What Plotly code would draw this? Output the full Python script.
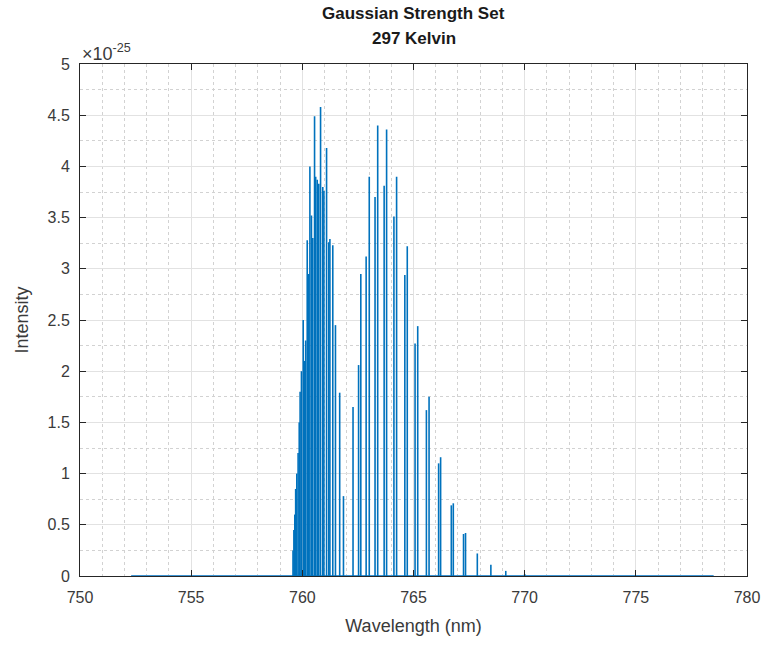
import plotly.graph_objects as go

# ---- data (intensity in units of 1e-25) ----
r_branch_nm = [759.58, 759.62, 759.66, 759.70, 759.75, 759.81, 759.86, 759.90, 759.96,
               760.04, 760.10, 760.15, 760.22, 760.29, 760.34, 760.41, 760.47, 760.55,
               760.60, 760.67, 760.74, 760.82, 760.92, 760.97, 761.09, 761.19, 761.24,
               761.37, 761.49, 761.68, 761.85]
r_branch_val = [0.25, 0.45, 0.60, 0.85, 1.00, 1.20, 1.50, 1.80, 2.00,
                2.50, 2.10, 2.30, 3.28, 2.95, 4.00, 3.52, 3.30, 4.49,
                3.90, 3.87, 3.83, 4.58, 3.80, 3.76, 4.18, 3.26, 3.29,
                3.23, 2.45, 1.79, 0.78]

p_branch_nm = [762.28, 762.53, 762.63, 762.87, 763.01, 763.27, 763.39, 763.68, 763.79,
               764.12, 764.24, 764.61, 764.72, 765.07, 765.19, 765.58, 765.70,
               766.13, 766.22, 766.70, 766.79, 767.25, 767.34, 767.87, 768.48,
               769.15, 770.00]
p_branch_val = [1.65, 2.06, 2.95, 3.12, 3.90, 3.70, 4.40, 3.81, 4.36,
                3.51, 3.90, 2.94, 3.22, 2.27, 2.44, 1.62, 1.75,
                1.10, 1.16, 0.69, 0.71, 0.41, 0.42, 0.22, 0.11,
                0.05, 0.02]

spectrum_range_nm = [752.3, 778.5]
baseline_val = [0.0, 0.0]

x_ticks = [750, 755, 760, 765, 770, 775, 780]
y_ticks = [0, 0.5, 1, 1.5, 2, 2.5, 3, 3.5, 4, 4.5, 5]
y_tick_text = ["0", "0.5", "1", "1.5", "2", "2.5", "3", "3.5", "4", "4.5", "5"]

# ---- build stick spectrum ----
line_nm = r_branch_nm + p_branch_nm
line_val = r_branch_val + p_branch_val
xs, ys = [], []
for c, h in zip(line_nm, line_val):
    xs += [c, c, None]
    ys += [0, h, None]

blue = "#0072BD"
fig = go.Figure()
fig.add_trace(go.Scatter(x=spectrum_range_nm, y=baseline_val, mode="lines",
                         line=dict(color="#3d93d1", width=2), hoverinfo="skip",
                         showlegend=False))
fig.add_trace(go.Scatter(x=xs, y=ys, mode="lines",
                         line=dict(color=blue, width=1.6), showlegend=False))

axis_col = "#262626"
grid_col = "#e2e2e2"
minor_col = "#d2d2d2"
text_col = "#3a3a3a"
font_family = "Liberation Sans, Arial, sans-serif"

fig.update_layout(
    width=772, height=649,
    margin=dict(l=80, r=19, t=64, b=73),
    paper_bgcolor="white", plot_bgcolor="white",
    font=dict(family=font_family, color=axis_col, size=16),
    xaxis=dict(
        range=[750, 780], tickvals=x_ticks, ticks="inside", ticklen=6,
        tickcolor=axis_col, showline=True, linecolor=axis_col, linewidth=1,
        mirror="ticks", showgrid=True, gridcolor=grid_col, gridwidth=1,
        zeroline=False, ticklabelstandoff=7,
        tickfont=dict(size=16, color=text_col),
        title=dict(text="Wavelength (nm)", font=dict(size=18, color=text_col), standoff=14),
        minor=dict(dtick=1, showgrid=True, griddash="dot", gridcolor=minor_col, ticks=""),
    ),
    yaxis=dict(
        range=[0, 5], tickvals=y_ticks, ticktext=y_tick_text, ticks="inside", ticklen=6,
        tickcolor=axis_col, showline=True, linecolor=axis_col, linewidth=1,
        mirror="ticks", showgrid=True, gridcolor=grid_col, gridwidth=1,
        zeroline=False, ticklabelstandoff=6,
        tickfont=dict(size=16, color=text_col),
        title=dict(text="Intensity", font=dict(size=18, color=text_col), standoff=14),
        minor=dict(dtick=0.25, showgrid=True, griddash="dot", gridcolor=minor_col, ticks=""),
    ),
    annotations=[
        dict(text="<b>Gaussian Strength Set</b>", xref="paper", yref="paper",
             x=0.5, y=(576 - 13) / 512, xanchor="center", yanchor="middle",
             showarrow=False, font=dict(size=17, color="#1a1a1a")),
        dict(text="<b>297 Kelvin</b>", xref="paper", yref="paper",
             x=0.5, y=(576 - 38) / 512, xanchor="center", yanchor="middle",
             showarrow=False, font=dict(size=17, color="#1a1a1a")),
        dict(text="×10<sup>-25</sup>", xref="paper", yref="paper",
             x=0.0, y=(576 - 52) / 512, xanchor="left", yanchor="middle",
             showarrow=False, font=dict(size=18, color=text_col)),
    ],
)

fig.write_html("out.html")
